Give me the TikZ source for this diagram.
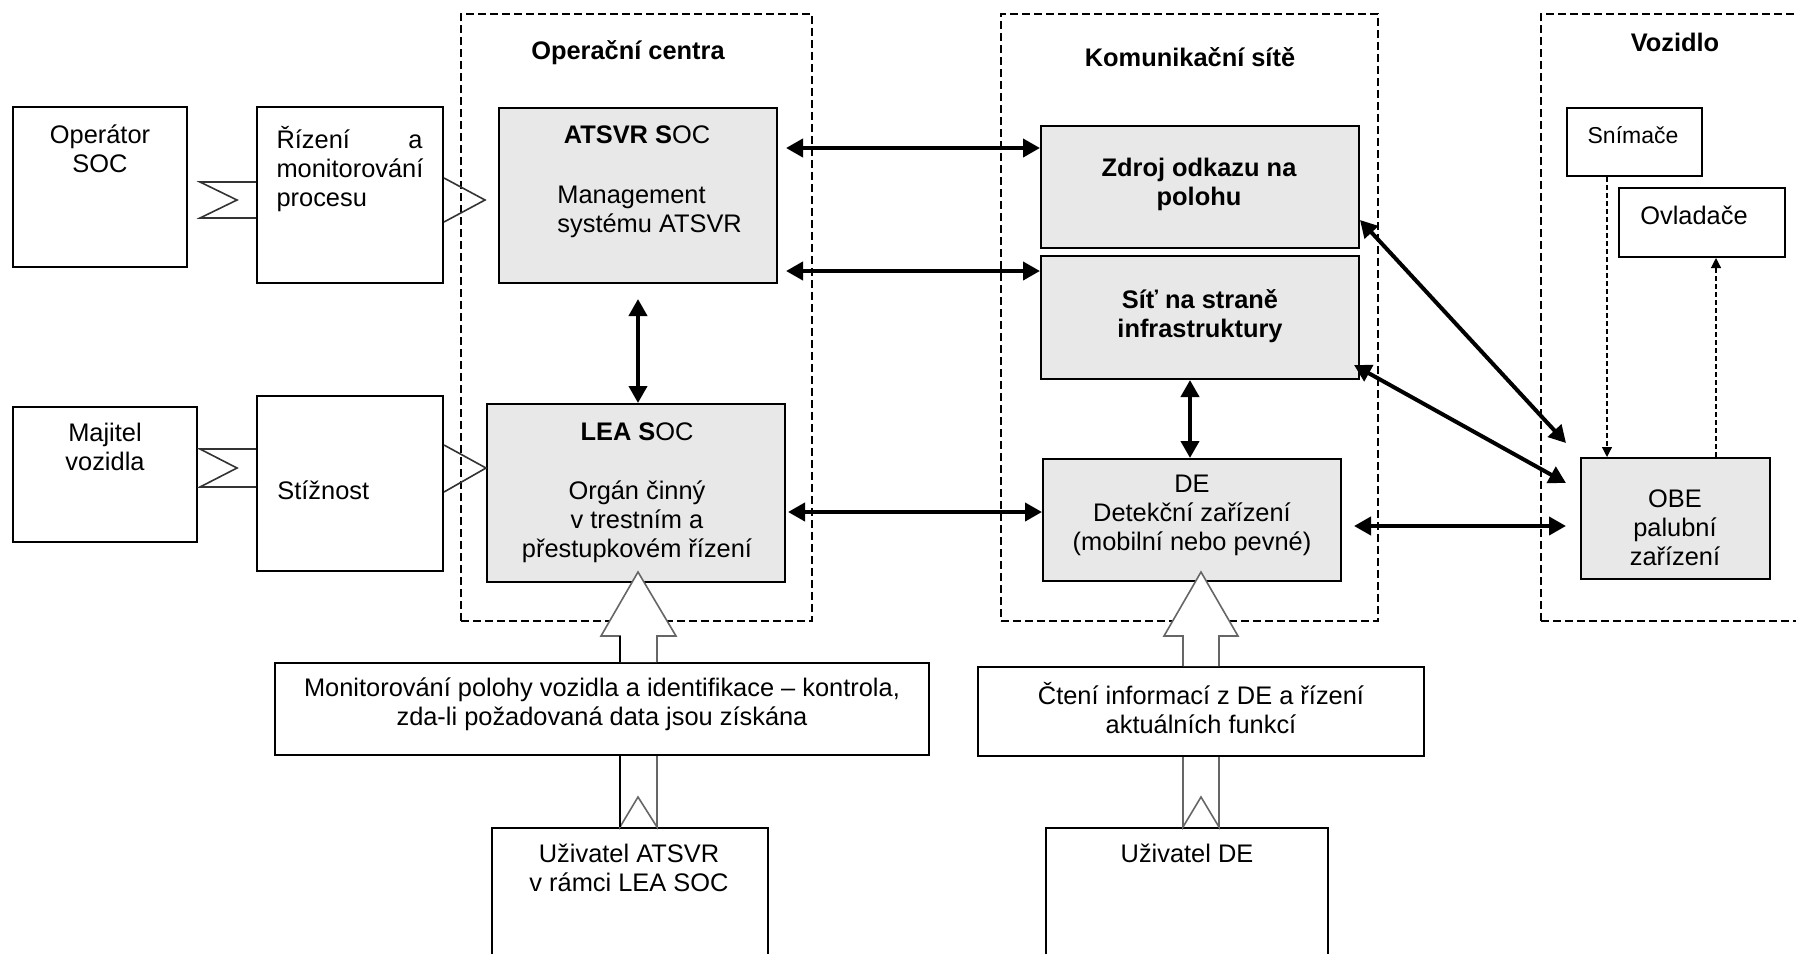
\documentclass[tikz,border=0pt]{standalone}
\usepackage{fontspec}
\setmainfont{Liberation Sans}
\usetikzlibrary{arrows.meta,fit,calc}
\definecolor{boxgray}{RGB}{232,232,232}
\begin{document}
\begin{tikzpicture}[x=0.5pt,y=-0.5pt,
  box/.style={draw, line width=1pt, inner sep=0pt},
  graybox/.style={box, fill=boxgray},
  region/.style={draw, line width=0.6pt, dash pattern=on 4pt off 2pt, inner sep=0pt},
  txt/.style={font=\fontsize{12.7}{14.5}\selectfont, align=center, inner sep=0pt},
  btxt/.style={txt, font=\fontsize{12.7}{14.5}\selectfont\bfseries},
  biarrow/.style={line width=2pt, {Triangle[length=8.5pt,width=9pt]}-{Triangle[length=8.5pt,width=9pt]}},
  dasharrow/.style={line width=0.6pt, dash pattern=on 2.5pt off 1.5pt, -{Triangle[length=5pt,width=5pt]}},
  iface/.style={line width=0.8pt, draw=black!80},
  hollow/.style={line width=0.8pt, draw=black!60, fill=white},
]
\useasboundingbox (0,0) rectangle (1796,954);

% regions
\node[region, fit={(461,14)(812,621)}] (opc) {};
\node[region, fit={(1001,14)(1378,621)}] (kom) {};
\node[region, fit={(1541,14)(1820,621)}] (voz) {};
\node[btxt] (opct) at (628,53) {Operační centra};
\node[btxt] (komt) at (1190,57) {Komunikační sítě};
\node[btxt] (vozt) at (1675,42) {Vozidlo};

% left boxes
\node[box, fit={(13,107)(187,267)}] (oper) {};
\node[txt] (opert) at (100,149) {Operátor\\SOC};
\node[box, fit={(257,107)(443,283)}] (rizeni) {};
\node[txt, align=left] (rizenit) at (350,169) {\makebox[73pt][l]{Řízení\hfill a}\\monitorování\\procesu};
\node[box, fit={(13,407)(197,542)}] (majitel) {};
\node[txt] (majitelt) at (105,447) {Majitel\\vozidla};
\node[box, fit={(257,396)(443,571)}] (stiz) {};
\node[txt, anchor=west] (stizt) at (277,490) {Stížnost};

% operacni centra
\node[graybox, fit={(499,108)(777,283)}] (atsvr) {};
\node[txt] (atsvrt) at (637,135) {\textbf{ATSVR S}OC};
\node[txt, align=left, anchor=west] (atsvrm) at (557,212) {Management\\systému ATSVR};
\node[graybox, fit={(487,404)(785,582)}] (lea) {};
\node[txt] (leat) at (637,432) {\textbf{LEA S}OC};
\node[txt] (leam) at (637,522) {Orgán činný\\v trestním a\\přestupkovém řízení};

% komunikacni site
\node[graybox, fit={(1041,126)(1359,248)}] (zdroj) {};
\node[btxt] (zdrojt) at (1199,184) {Zdroj odkazu na\\polohu};
\node[graybox, fit={(1041,256)(1359,379)}] (sit) {};
\node[btxt] (sitt) at (1200,316) {Síť na straně\\infrastruktury};
\node[graybox, fit={(1043,459)(1341,581)}] (de) {};
\node[txt] (det) at (1192,515) {DE\\Detekční zařízení\\(mobilní nebo pevné)};

% vozidlo
\node[box, fit={(1567,108)(1702,176)}] (snim) {};
\node[txt, font=\fontsize{11.5}{13}\selectfont] (snimt) at (1633,135) {Snímače};
\node[box, fit={(1619,188)(1785,257)}] (ovl) {};
\node[txt] (ovlt) at (1694,215) {Ovladače};
\node[graybox, fit={(1581,458)(1770,579)}] (obe) {};
\node[txt] (obet) at (1675,528) {OBE\\palubní\\zařízení};

% bottom boxes
\node[box, fit={(275,663)(929,755)}] (mon) {};
\node[txt] (mont) at (602,704) {Monitorování polohy vozidla a identifikace – kontrola,\\zda-li požadovaná data jsou získána};
\node[box, fit={(492,828)(768,990)}] (uzatsvr) {};
\node[txt] (uzatsvrt) at (629,868) {Uživatel ATSVR\\v rámci LEA SOC};
\node[box, fit={(978,667)(1424,756)}] (cteni) {};
\node[txt] (ctenit) at (1201,708) {Čtení informací z DE a řízení\\aktuálních funkcí};
\node[box, fit={(1046,828)(1328,990)}] (uzde) {};
\node[txt] (uzdet) at (1187,853) {Uživatel DE};

% interface symbols
\draw[iface] (rizeni.west|-0,182) -- (200,182) -- (237,200) -- (200,218) -- (rizeni.west|-0,218);
\draw[iface] (rizeni.east|-0,178) -- (485,200) -- (rizeni.east|-0,222);
\draw[iface] (stiz.west|-0,449) -- (200,449) -- (237,468) -- (200,487) -- (stiz.west|-0,487);
\draw[iface] (stiz.east|-0,445) -- (lea.west|-0,468) -- (stiz.east|-0,492);

% thick arrows
\draw[biarrow] ($(atsvr.east|-0,148)+(8,0)$) -- (zdroj.west|-0,148);
\draw[biarrow] ($(atsvr.east|-0,271)+(8,0)$) -- (sit.west|-0,271);
\draw[biarrow] ($(atsvr.south)+(0,15)$) -- (lea.north-|atsvr.south);
\draw[biarrow] ($(lea.east|-0,512)+(2,0)$) -- (de.west|-0,512);
\draw[biarrow] (1190,0|-sit.south) -- (1190,0|-de.north);
\draw[biarrow] ($(de.east|-0,526)+(12,0)$) -- ($(obe.west|-0,526)+(-14,0)$);
\draw[biarrow] (zdroj.east|-0,220) -- ($(obe.west|-0,443)+(-14,0)$);
\draw[biarrow] ($(sit.east|-0,365)+(-6,0)$) -- ($(obe.west|-0,483)+(-14,0)$);

% dashed arrows in vehicle
\draw[dasharrow] (1607,0|-snim.south) -- (1607,0|-obe.north);
\draw[dasharrow] (1716,0|-obe.north) -- (1716,0|-ovl.south);

% hollow arrows
\draw[hollow] (620,0|-mon.north) -- (620,636) -- (601,636) -- (638,572) -- (676,636) -- (657,636) -- (657,0|-mon.north);
\draw[hollow] (620,0|-mon.south) -- (620,0|-uzatsvr.north) -- (638,797) -- (657,0|-uzatsvr.north) -- (657,0|-mon.south);
\draw[line width=0.8pt, black] (620,0|-mon.north) -- (620,636);
\draw[line width=0.8pt, black] (620,0|-mon.south) -- (620,0|-uzatsvr.north);
\draw[hollow] (1183,0|-cteni.north) -- (1183,636) -- (1164,636) -- (1201,572) -- (1238,636) -- (1219,636) -- (1219,0|-cteni.north);
\draw[hollow] (1183,0|-cteni.south) -- (1183,0|-uzde.north) -- (1201,797) -- (1219,0|-uzde.north) -- (1219,0|-cteni.south);
\end{tikzpicture}
\end{document}
